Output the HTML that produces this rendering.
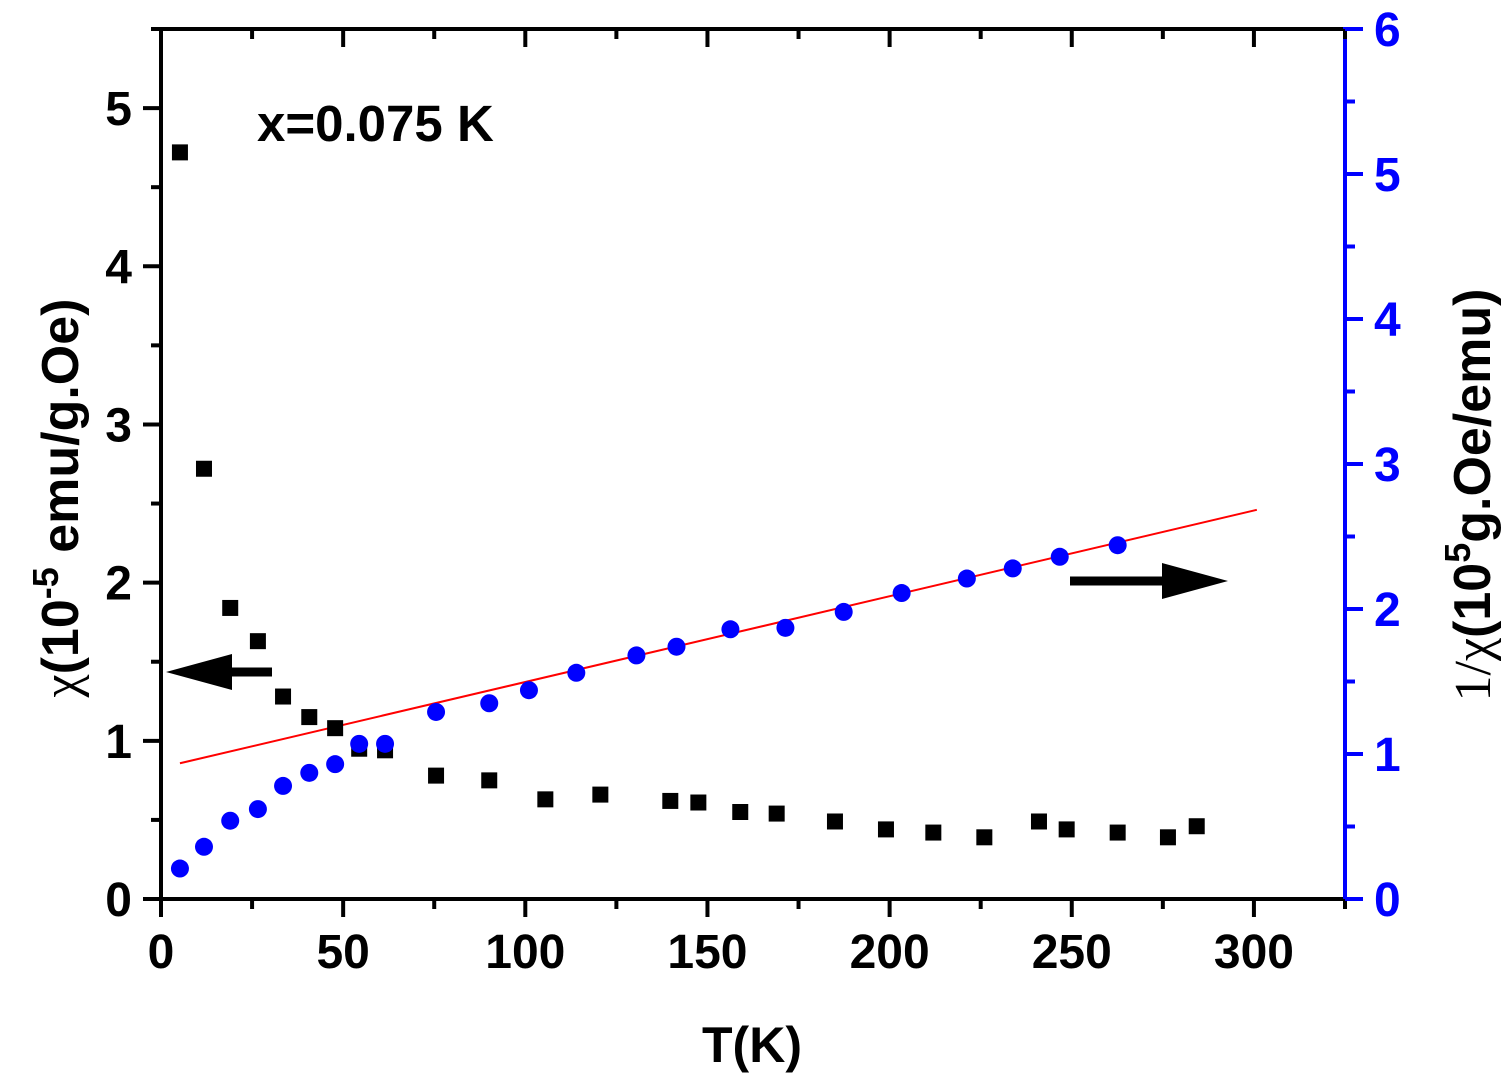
<!DOCTYPE html>
<html><head><meta charset="utf-8"><style>
html,body{margin:0;padding:0;background:#fff;}
svg{display:block;font-family:"Liberation Sans",Arial,sans-serif;font-weight:bold;}
</style></head><body>
<svg id="chart" width="1508" height="1084" viewBox="0 0 1508 1084" xmlns="http://www.w3.org/2000/svg">
<g id="axes"></g>
<g id="marks"></g>
<text x="257" y="141" font-size="51">x=0.075 K</text>
<text x="752" y="1062" font-size="50" text-anchor="middle">T(K)</text>
<text transform="translate(78,498) rotate(-90)" font-size="52" text-anchor="middle"><tspan font-family="Liberation Serif,serif" font-weight="normal">χ</tspan>(10<tspan font-size="36" dy="-20">-5</tspan><tspan dy="20"> emu/g.Oe)</tspan></text>
<text transform="translate(1490,495) rotate(-90)" font-size="52" text-anchor="middle"><tspan font-family="Liberation Serif,serif" font-weight="normal">1/χ</tspan>(10<tspan font-size="36" dy="-20">5</tspan><tspan dy="20">g.Oe/emu)</tspan></text>
<g><line x1="272" y1="672" x2="200" y2="672" stroke="#000" stroke-width="9"/><polygon points="166,672 232,654 232,690" fill="#000"/></g>
<g><line x1="1070" y1="581" x2="1190" y2="581" stroke="#000" stroke-width="9"/><polygon points="1228,581 1162,563 1162,599" fill="#000"/></g>
</svg>
<script>
const tempsChi=[5.2,11.8,19,26.6,33.5,40.7,47.8,54.4,61.5,75.5,90.1,105.5,120.6,139.8,147.5,159,169,185,199,212,226,241,248.6,262.6,276.4,284.3];
const chiValues=[4.72,2.72,1.84,1.63,1.28,1.15,1.08,0.95,0.94,0.78,0.75,0.63,0.66,0.62,0.61,0.55,0.54,0.49,0.44,0.42,0.39,0.49,0.44,0.42,0.39,0.46];
const tempsInv=[5.2,11.8,19,26.6,33.5,40.7,47.8,54.4,61.5,75.5,90.1,101,114,130.5,141.5,156.3,171.4,187.4,203.3,221.2,233.8,246.7,262.6];
const invChiValues=[0.21,0.36,0.54,0.62,0.78,0.87,0.93,1.07,1.07,1.29,1.35,1.44,1.56,1.68,1.74,1.86,1.87,1.98,2.11,2.21,2.28,2.36,2.44];
const fitT=[5.2,300.8];
const fitInv=[0.936,2.684];
const xTicks=[0,50,100,150,200,250,300];
const leftTicks=[0,1,2,3,4,5];
const rightTicks=[0,1,2,3,4,5,6];

const NS="http://www.w3.org/2000/svg";
const L=161,R=1345,T=29,B=899;
const xs=t=>L+t*(R-L)/325;
const yl=v=>B-v*(B-T)/5.5;
const yr=v=>B-v*(B-T)/6;
function mk(tag,attrs,parent,text){const e=document.createElementNS(NS,tag);for(const k in attrs)e.setAttribute(k,attrs[k]);if(text!==undefined)e.textContent=text;parent.appendChild(e);return e;}
const ax=document.getElementById('axes'),mg=document.getElementById('marks');
let e;
e=mk('line',{x1:L,y1:T,x2:R,y2:T,stroke:'#000','stroke-width':4},ax);


e=mk('line',{x1:L,y1:B,x2:R,y2:B,stroke:'#000','stroke-width':4},ax);


e=mk('line',{x1:L,y1:T-2,x2:L,y2:B+2,stroke:'#000','stroke-width':4},ax);


e=mk('line',{x1:R,y1:T-2,x2:R,y2:B+2,stroke:'#0000ff','stroke-width':4},ax);


for(let t=0;t<=325;t+=25){const major=t%50===0;const x=xs(t);
 e=mk('line',{x1:x,y1:B,x2:x,y2:B+(major?18:10),stroke:'#000','stroke-width':4},ax);
 
 
 e=mk('line',{x1:x,y1:T,x2:x,y2:T+(major?18:10),stroke:'#000','stroke-width':4},ax);
 
 }
xTicks.forEach(t=>{e=mk('text',{x:xs(t),y:968,'font-size':48,'text-anchor':'middle'},ax,String(t));
 
 });
for(let v=0;v<=5.5001;v+=0.5){const major=Math.abs(v-Math.round(v))<1e-6;const y=yl(v);
 e=mk('line',{x1:L-(major?18:10),y1:y,x2:L,y2:y,stroke:'#000','stroke-width':4},ax);
 
 }
leftTicks.forEach(v=>{e=mk('text',{x:132,y:yl(v)+17,'font-size':48,'text-anchor':'end'},ax,String(v));
 
 });
for(let v=0;v<=6.0001;v+=0.5){const major=Math.abs(v-Math.round(v))<1e-6;const y=yr(v);
 e=mk('line',{x1:R,y1:y,x2:R+(major?18:10),y2:y,stroke:'#0000ff','stroke-width':4},ax);
 
 }
rightTicks.forEach(v=>{e=mk('text',{x:1374,y:yr(v)+17,'font-size':48,fill:'#0000ff'},ax,String(v));
 
 });
e=mk('line',{x1:xs(fitT[0]),y1:yr(fitInv[0]),x2:xs(fitT[1]),y2:yr(fitInv[1]),stroke:'#ff0000','stroke-width':2},mg);


tempsChi.forEach((t,i)=>{e=mk('rect',{x:xs(t)-8,y:yl(chiValues[i])-8,width:16,height:16,fill:'#000'},mg);
 
 });
tempsInv.forEach((t,i)=>{e=mk('circle',{cx:xs(t),cy:yr(invChiValues[i]),r:9,fill:'#0000ff'},mg);
 
 });
</script>
</body></html>
